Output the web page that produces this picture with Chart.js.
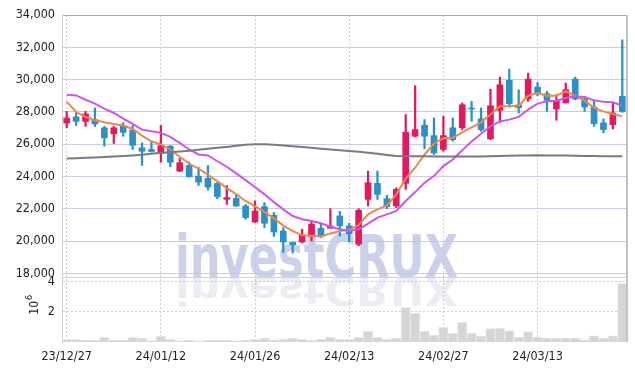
<!DOCTYPE html>
<html>
<head>
<meta charset="utf-8">
<script src="https://cdn.jsdelivr.net/npm/chart.js@4"></script>
<style>
  html, body { margin: 0; padding: 0; background: #fff; }
</style>
</head>
<body>
<canvas id="chart" width="635" height="371"></canvas>
<script>
// trading days, yy/mm/dd
const dates = [
  "23/12/27", "23/12/28", "24/01/02", "24/01/03", "24/01/04", "24/01/05", "24/01/08", "24/01/09", "24/01/10", "24/01/11",
  "24/01/12", "24/01/15", "24/01/16", "24/01/17", "24/01/18", "24/01/19", "24/01/22", "24/01/23", "24/01/24", "24/01/25",
  "24/01/26", "24/01/29", "24/01/30", "24/01/31", "24/02/01", "24/02/02", "24/02/05", "24/02/06", "24/02/07", "24/02/08",
  "24/02/13", "24/02/14", "24/02/15", "24/02/16", "24/02/19", "24/02/20", "24/02/21", "24/02/22", "24/02/23", "24/02/26",
  "24/02/27", "24/02/28", "24/02/29", "24/03/04", "24/03/05", "24/03/06", "24/03/07", "24/03/08", "24/03/11", "24/03/12",
  "24/03/13", "24/03/14", "24/03/15", "24/03/18", "24/03/19", "24/03/20", "24/03/21", "24/03/22", "24/03/25", "24/03/26"
];

const openP = [
  27310, 27690, 27410, 27520, 27010, 26640, 27150, 26860, 25770, 25670,
  25420, 25870, 24330, 24680, 24020, 23880, 23570, 22580, 22640, 22170,
  21180, 22130, 21590, 20620, 19910, 19940, 20280, 20790, 20790, 21550,
  20940, 19800, 22580, 23570, 22620, 22170, 23570, 26490, 27170, 26530,
  25670, 27010, 27010, 28240, 27560, 26330, 28090, 29950, 28430, 28800,
  29540, 29120, 28180, 28550, 30030, 28800, 28300, 27320, 27210, 28960
];
const highP = [
  28030, 27950, 28030, 28240, 27100, 27100, 27320, 27150, 26080, 26180,
  27150, 25910, 25110, 24900, 24560, 24680, 23620, 23440, 22850, 22260,
  22480, 22380, 21760, 20830, 19930, 20730, 21240, 21040, 22000, 21840,
  21100, 22000, 24330, 24330, 22830, 23300, 27830, 29620, 27520, 27620,
  27720, 27620, 28550, 28650, 28240, 29410, 30150, 30650, 29370, 30400,
  29820, 29270, 29060, 29780, 30150, 28960, 28750, 27560, 28550, 32460
];
const lowP = [
  27010, 27150, 27100, 27100, 25870, 26040, 26490, 25670, 24680, 25500,
  24880, 24600, 24300, 23950, 23440, 23150, 22620, 22270, 22150, 21350,
  21140, 20830, 20280, 19290, 19250, 19900, 20000, 20210, 20780, 20310,
  19940, 19700, 22170, 22580, 22000, 22070, 23200, 26450, 25710, 25360,
  25560, 26180, 26900, 27410, 26800, 26280, 27350, 28300, 27930, 28650,
  29000, 28030, 27480, 28550, 28750, 28030, 27100, 26700, 26940, 27970
];
const closeP = [
  27620, 27410, 27870, 27250, 26390, 27010, 26730, 25930, 25560, 25540,
  25910, 24880, 24850, 23980, 23650, 23340, 22750, 22690, 22170, 21450,
  21860, 21100, 20560, 19940, 19760, 20360, 21040, 20280, 20930, 20940,
  20440, 21900, 23610, 22890, 22130, 23200, 26730, 26900, 26490, 25460,
  26530, 26280, 28440, 28180, 26900, 28380, 29680, 28510, 28260, 30030,
  29120, 28710, 28710, 29370, 28800, 28300, 27270, 26900, 27930, 28030
];

// moving averages
const maShort = [
  28630, 27990, 27690, 27480, 27350, 27250, 27150, 26940, 26530, 26180,
  25980, 25670, 25220, 24800, 24490, 24100, 23700, 23280, 22900, 22480,
  22150, 21800, 21400, 20950, 20620, 20350, 20320, 20280, 20470, 20620,
  20690, 20980, 21650, 21960, 22210, 22890, 23860, 24540, 25360, 26040,
  26360, 26390, 26730, 27040, 27350, 27830, 28340, 28340, 28380, 29000,
  29170, 29000, 29000, 29270, 29000, 28710, 28240, 28030, 27870, 27720
];
const maMid = [
  29060, 29020, 28750, 28510, 28200, 27930, 27580, 27250, 26900, 26800,
  26700, 26450, 26080, 25670, 25360, 25300, 24940, 24600, 24190, 23770,
  23340, 22890, 22410, 21960, 21550, 21350, 21240, 21100, 20880, 20730,
  20620, 20730, 21080, 21450, 21650, 21860, 22480, 23030, 23610, 24020,
  24640, 25050, 25620, 26160, 26650, 27110, 27400, 27520, 27690, 28140,
  28510, 28650, 28690, 28860, 28960, 28920, 28710, 28630, 28590, 28380
];
const maLong = [
  25110, 25130, 25150, 25180, 25210, 25240, 25270, 25300, 25340, 25400,
  25460, 25500, 25540, 25590, 25650, 25710, 25770, 25830, 25900, 25960,
  26000, 25990, 25960, 25920, 25870, 25820, 25770, 25720, 25670, 25620,
  25580, 25530, 25470, 25400, 25330, 25270, 25250, 25250, 25250, 25240,
  25240, 25230, 25230, 25230, 25240, 25250, 25260, 25280, 25290, 25300,
  25310, 25300, 25290, 25290, 25280, 25270, 25260, 25250, 25250, 25250
];

// volume in millions of shares
const volume = [
  0.18, 0.18, 0.11, 0.11, 0.31, 0.11, 0.11, 0.31, 0.24, 0.07,
  0.37, 0.18, 0.07, 0.11, 0.05, 0.11, 0.11, 0.11, 0.05, 0.11,
  0.18, 0.24, 0.15, 0.20, 0.24, 0.18, 0.13, 0.20, 0.31, 0.20,
  0.18, 0.31, 0.70, 0.31, 0.20, 0.26, 2.28, 1.89, 0.70, 0.46,
  0.97, 0.57, 1.30, 0.57, 0.39, 0.88, 0.92, 0.74, 0.33, 0.69,
  0.33, 0.26, 0.26, 0.26, 0.26, 0.15, 0.41, 0.26, 0.41, 3.86
];

const priceTicks = [18000, 20000, 22000, 24000, 26000, 28000, 30000, 32000, 34000];
const volumeTicks = [2, 4];

const UP = "#e3195f";
const DOWN = "#2b90c8";
const candleColor = dates.map((d, i) => (closeP[i] >= openP[i] ? UP : DOWN));

const FONT = '"DejaVu Sans Condensed", "DejaVu Sans", sans-serif';
const GRID = "#c9cce0";

// watermark with its mirror image, drawn under the data
const watermark = {
  id: "watermark",
  beforeDatasetsDraw(chart) {
    const ctx = chart.ctx;
    const text = "investCRUX";
    ctx.save();
    ctx.font = 'bold 58px "DejaVu Sans"';
    const w = ctx.measureText(text).width;
    ctx.translate(175, 277);
    ctx.scale(283 / w, 1);
    ctx.fillStyle = "rgba(190,198,228,0.8)";
    ctx.fillText(text, 0, 0);
    ctx.scale(1, -0.68);
    ctx.fillStyle = "rgba(200,204,222,0.35)";
    ctx.fillText(text, 0, 0);
    ctx.restore();
  },
  afterDraw(chart) {
    const ctx = chart.ctx;
    const area = chart.chartArea;
    const py = chart.scales.y;
    ctx.save();
    // separator between price and volume panes
    ctx.strokeStyle = "#d0d0d8";
    ctx.lineWidth = 1;
    ctx.beginPath();
    ctx.moveTo(area.left, Math.round(py.bottom) + 0.5);
    ctx.lineTo(area.right, Math.round(py.bottom) + 0.5);
    ctx.stroke();
    // right frame
    ctx.strokeStyle = "#c4c4c4";
    ctx.lineWidth = 2;
    ctx.beginPath();
    ctx.moveTo(area.right, area.top);
    ctx.lineTo(area.right, area.bottom);
    ctx.stroke();
    // volume unit label
    ctx.translate(35, 303);
    ctx.rotate(-Math.PI / 2);
    ctx.fillStyle = "#222";
    ctx.font = "12px " + FONT;
    ctx.textBaseline = "middle";
    ctx.textAlign = "right";
    ctx.fillText("10", 2, 0);
    ctx.font = "9px " + FONT;
    ctx.textAlign = "left";
    ctx.fillText("6", 3, -5);
    ctx.restore();
  }
};

const ctx = document.getElementById("chart");
new Chart(ctx, {
  data: {
    labels: dates,
    datasets: [
      { type: "line", data: maLong, borderColor: "#7a7a7a", borderWidth: 2, pointRadius: 0, yAxisID: "y", order: 0 },
      { type: "line", data: maMid, borderColor: "#cc55ee", borderWidth: 2, pointRadius: 0, yAxisID: "y", order: 0 },
      { type: "line", data: maShort, borderColor: "#f08648", borderWidth: 2, pointRadius: 0, yAxisID: "y", order: 0 },
      {
        type: "bar",
        data: dates.map((d, i) => [lowP[i], highP[i]]),
        backgroundColor: candleColor,
        barThickness: 1.6,
        grouped: false,
        yAxisID: "y",
        order: 2,
      },
      {
        type: "bar",
        data: dates.map((d, i) => [openP[i], closeP[i]]),
        backgroundColor: candleColor,
        barThickness: 6,
        grouped: false,
        yAxisID: "y",
        order: 1,
      },
      {
        type: "bar",
        data: volume,
        backgroundColor: "#d5d5d5",
        borderColor: "#e6e6e6",
        borderWidth: 1,
        barPercentage: 1,
        categoryPercentage: 1,
        grouped: false,
        yAxisID: "yv",
        order: 3,
      },
    ],
  },
  options: {
    responsive: false,
    animation: false,
    events: [],
    layout: { padding: { top: 15, right: 8, bottom: 0, left: 0 } },
    plugins: { legend: { display: false }, tooltip: { enabled: false } },
    scales: {
      x: {
        type: "category",
        offset: true,
        grid: {
          offset: false,
          drawTicks: false,
          color: (c) => (c.index % 10 === 0 ? GRID : "transparent"),
        },
        border: { display: false, dash: [2, 2] },
        ticks: {
          autoSkip: false,
          maxRotation: 0,
          padding: 7,
          color: "#222",
          font: { family: FONT, size: 12.5 },
          callback: (v, i) => (i % 10 === 0 ? dates[i] : ""),
        },
        afterFit: (s) => { s.height = 29; },
      },
      yv: {
        type: "linear",
        position: "left",
        stack: "panes",
        stackWeight: 65,
        min: 0,
        max: 4.3,
        afterBuildTicks: (s) => { s.ticks = volumeTicks.map((v) => ({ value: v })); },
        grid: { color: GRID, drawTicks: false },
        border: { color: "#cfcfcf", dash: [2, 2] },
        ticks: { autoSkip: false, padding: 7, color: "#222", font: { family: FONT, size: 12.5 } },
        afterFit: (s) => { s.width = 62; },
      },
      y: {
        type: "linear",
        position: "left",
        stack: "panes",
        stackWeight: 262,
        min: 17770,
        max: 34000,
        afterBuildTicks: (s) => { s.ticks = priceTicks.map((v) => ({ value: v })); },
        grid: {
          drawTicks: false,
          color: (c) => (c.tick && c.tick.value === 34000 ? "#a8a8a8" : GRID),
        },
        border: { color: "#cfcfcf" },
        ticks: {
          autoSkip: false,
          padding: 7,
          color: "#222",
          font: { family: FONT, size: 12.5 },
          callback: (v) => v.toLocaleString("en-US"),
        },
        afterFit: (s) => { s.width = 62; },
      },
    },
  },
  plugins: [watermark],
});
</script>
</body>
</html>
